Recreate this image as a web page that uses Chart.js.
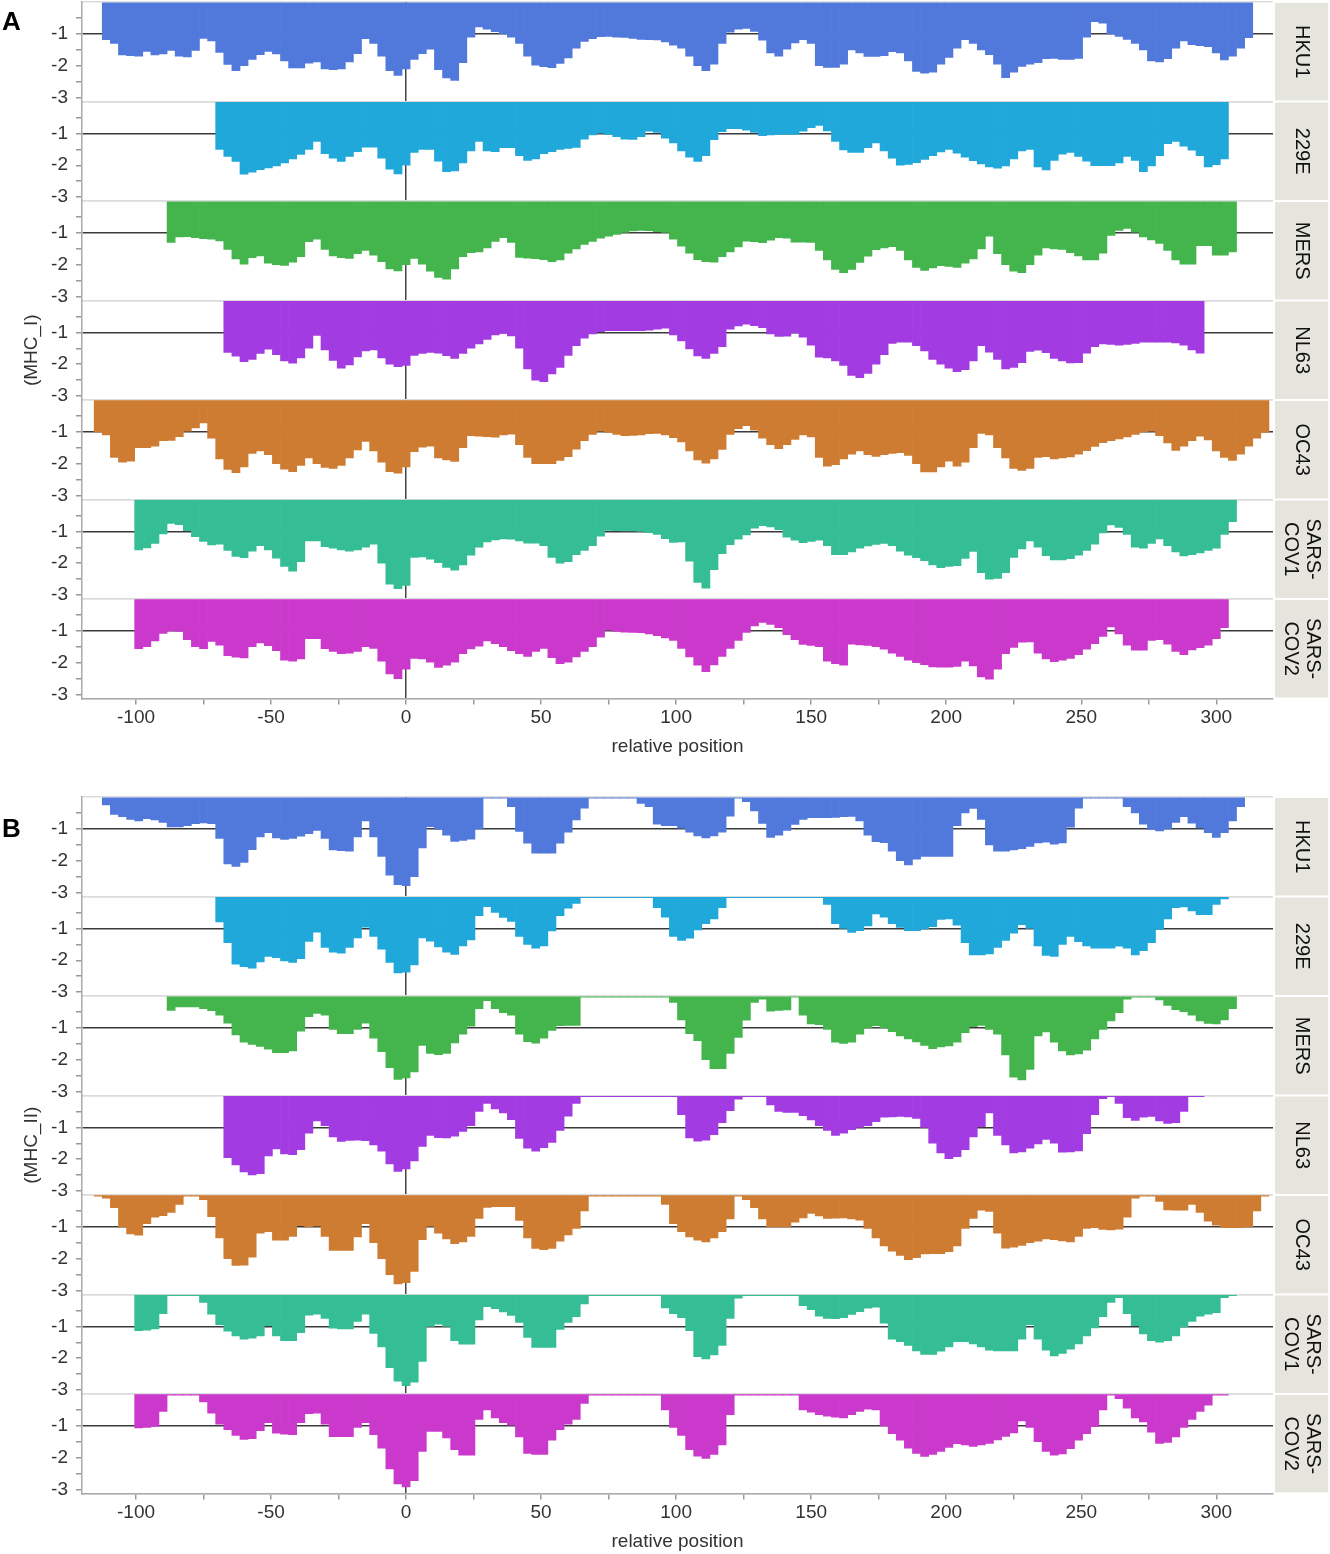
<!DOCTYPE html>
<html>
<head>
<meta charset="utf-8">
<script src="https://cdn.jsdelivr.net/npm/chart.js@4.4.1/dist/chart.umd.min.js"></script>
<style>
  body { margin: 0; background: #fff; width: 1330px; height: 1554px; position: relative; overflow: hidden; }
  .panel { position: absolute; left: 0; width: 1330px; }
  .letter { position: absolute; left: 2px; font: bold 26px "Liberation Sans", Arial, sans-serif; line-height: 1; color: #000; }
</style>
</head>
<body>
<div class="panel" style="top:0;height:760px"><canvas id="chartA"></canvas></div>
<div class="panel" style="top:795px;height:759px"><canvas id="chartB"></canvas></div>
<div class="letter" style="top:8px">A</div>
<div class="letter" style="top:815px">B</div>
<script>
const FONT = '"Liberation Sans", Arial, sans-serif';
const _ = null;

// relative positions (every 3rd residue)
const positions = [
  -114, -111, -108, -105, -102, -99, -96, -93, -90, -87,
  -84, -81, -78, -75, -72, -69, -66, -63, -60, -57,
  -54, -51, -48, -45, -42, -39, -36, -33, -30, -27,
  -24, -21, -18, -15, -12, -9, -6, -3, 0, 3,
  6, 9, 12, 15, 18, 21, 24, 27, 30, 33,
  36, 39, 42, 45, 48, 51, 54, 57, 60, 63,
  66, 69, 72, 75, 78, 81, 84, 87, 90, 93,
  96, 99, 102, 105, 108, 111, 114, 117, 120, 123,
  126, 129, 132, 135, 138, 141, 144, 147, 150, 153,
  156, 159, 162, 165, 168, 171, 174, 177, 180, 183,
  186, 189, 192, 195, 198, 201, 204, 207, 210, 213,
  216, 219, 222, 225, 228, 231, 234, 237, 240, 243,
  246, 249, 252, 255, 258, 261, 264, 267, 270, 273,
  276, 279, 282, 285, 288, 291, 294, 297, 300, 303,
  306, 309, 312, 315, 318
];
const xTicks = [-100, -75, -50, -25, 0, 25, 50, 75, 100, 125, 150, 175, 200, 225, 250, 275, 300];
const yTicks = [-3, -2.5, -2, -1.5, -1, -0.5, 0];
const rowNames = ['HKU1', '229E', 'MERS', 'NL63', 'OC43', 'SARS-\nCOV1', 'SARS-\nCOV2'];
const rowColors = ['#5179dc', '#1fa8d9', '#43b54c', '#a33be2', '#cf7c33', '#35be95', '#cb39cc'];

// ---- panel A : MHC_I ----
const mhc1_HKU1 = [
  _, -1.18, -1.3, -1.66, -1.68, -1.7, -1.55, -1.66, -1.63, -1.52,
  -1.7, -1.72, -1.52, -1.14, -1.22, -1.58, -1.96, -2.15, -2.0, -1.8,
  -1.65, -1.55, -1.63, -1.85, -2.07, -2.07, -1.92, -1.88, -2.1, -2.12,
  -2.1, -1.88, -1.62, -1.15, -1.3, -1.7, -2.15, -2.3, -2.1, -1.8,
  -1.62, -1.48, -2.12, -2.38, -2.46, -1.9, -1.1, -0.78, -0.85, -0.93,
  -1.0, -1.1, -1.3, -1.7, -1.98, -2.03, -2.06, -1.93, -1.75, -1.45,
  -1.24, -1.15, -1.09, -1.08, -1.1, -1.11, -1.14, -1.17, -1.18, -1.19,
  -1.25, -1.35, -1.45, -1.7, -2.0, -2.15, -1.95, -1.3, -0.95, -0.85,
  -0.83, -0.92, -1.2, -1.6, -1.7, -1.48, -1.28, -1.18, -1.3, -2.0,
  -2.05, -2.05, -1.95, -1.5, -1.6, -1.71, -1.71, -1.68, -1.56, -1.6,
  -1.85, -2.18, -2.23, -2.2, -1.95, -1.74, -1.45, -1.18, -1.3, -1.5,
  -1.65, -1.95, -2.37, -2.2, -2.02, -1.95, -1.9, -1.78, -1.77, -1.8,
  -1.8, -1.77, -1.1, -0.62, -0.66, -1.0, -1.08, -1.17, -1.3, -1.5,
  -1.85, -1.88, -1.78, -1.45, -1.22, -1.34, -1.37, -1.4, -1.6, -1.82,
  -1.7, -1.45, -1.12, _, _
];
const mhc1_229E = [
  _, _, _, _, _, _, _, _, _, _,
  _, _, _, _, _, -1.5, -1.72, -1.88, -2.28, -2.22,
  -2.14, -2.08, -2.02, -1.93, -1.8, -1.66, -1.5, -1.25, -1.64, -1.78,
  -1.88, -1.72, -1.57, -1.43, -1.43, -1.78, -2.12, -2.27, -2.0, -1.6,
  -1.5, -1.5, -1.87, -2.2, -2.18, -1.93, -1.55, -1.25, -1.55, -1.57,
  -1.45, -1.45, -1.7, -1.85, -1.8, -1.64, -1.57, -1.5, -1.47, -1.44,
  -1.18, -1.05, -0.99, -1.03, -1.1, -1.18, -1.19, -1.1, -0.93, -0.97,
  -1.15, -1.3, -1.55, -1.75, -1.88, -1.7, -1.2, -0.95, -0.85, -0.85,
  -0.9, -0.97, -1.07, -1.05, -1.03, -1.03, -1.03, -0.93, -0.82, -0.75,
  -0.92, -1.25, -1.52, -1.6, -1.6, -1.45, -1.3, -1.55, -1.78, -2.0,
  -1.97, -1.92, -1.82, -1.7, -1.58, -1.5, -1.62, -1.75, -1.86, -1.96,
  -2.05, -2.09, -2.02, -1.8, -1.55, -1.5, -2.05, -2.15, -1.85, -1.65,
  -1.6, -1.72, -1.87, -2.01, -2.01, -2.01, -1.93, -1.72, -1.85, -2.2,
  -2.02, -1.7, -1.32, -1.25, -1.4, -1.53, -1.7, -2.05, -1.98, -1.8,
  _, _, _, _, _
];
const mhc1_MERS = [
  _, _, _, _, _, _, _, _, _, -1.3,
  -1.13, -1.12, -1.15, -1.18, -1.2, -1.25, -1.52, -1.82, -1.98, -1.78,
  -1.72, -1.95, -2.0, -2.02, -1.92, -1.75, -1.28, -1.2, -1.52, -1.72,
  -1.78, -1.8, -1.65, -1.55, -1.7, -1.9, -2.13, -2.19, -2.0, -1.8,
  -1.98, -2.2, -2.4, -2.45, -2.13, -1.75, -1.62, -1.6, -1.47, -1.27,
  -1.15, -1.3, -1.77, -1.79, -1.81, -1.84, -1.9, -1.85, -1.64, -1.5,
  -1.36, -1.27, -1.17, -1.1, -1.05, -0.99, -0.94, -0.92, -0.93, -0.96,
  -0.99, -1.2, -1.42, -1.64, -1.84, -1.9, -1.92, -1.75, -1.6, -1.44,
  -1.26, -1.28, -1.31, -1.23, -1.15, -1.17, -1.29, -1.29, -1.3, -1.55,
  -1.85, -2.15, -2.25, -2.15, -1.93, -1.73, -1.53, -1.47, -1.43, -1.55,
  -1.85, -2.08, -2.18, -2.1, -2.03, -2.05, -2.08, -1.95, -1.82, -1.5,
  -1.1, -1.65, -2.0, -2.2, -2.25, -2.0, -1.7, -1.47, -1.5, -1.52,
  -1.62, -1.72, -1.85, -1.85, -1.64, -1.08, -0.92, -0.86, -0.98, -1.13,
  -1.22, -1.33, -1.55, -1.85, -1.98, -1.98, -1.4, -1.4, -1.7, -1.7,
  -1.6, _, _, _, _
];
const mhc1_NL63 = [
  _, _, _, _, _, _, _, _, _, _,
  _, _, _, _, _, _, -1.63, -1.75, -1.92, -1.85,
  -1.66, -1.53, -1.7, -1.9, -1.97, -1.8, -1.5, -1.1, -1.55, -1.88,
  -2.12, -2.02, -1.77, -1.58, -1.55, -1.8, -2.0, -2.08, -2.04, -1.72,
  -1.66, -1.63, -1.65, -1.73, -1.82, -1.66, -1.5, -1.36, -1.22, -1.08,
  -1.03, -1.11, -1.5, -2.15, -2.5, -2.55, -2.3, -2.1, -1.72, -1.42,
  -1.18, -1.05, -0.98, -0.95, -0.95, -0.95, -0.95, -0.95, -0.93, -0.9,
  -0.87, -1.08, -1.27, -1.52, -1.74, -1.82, -1.66, -1.45, -0.9, -0.8,
  -0.74, -0.79, -0.85, -1.05, -1.13, -1.12, -1.02, -1.15, -1.4, -1.78,
  -1.8, -1.9, -2.04, -2.35, -2.42, -2.29, -2.0, -1.7, -1.35, -1.31,
  -1.31, -1.42, -1.58, -1.85, -2.0, -2.12, -2.23, -2.17, -1.9, -1.42,
  -1.62, -1.85, -2.15, -2.1, -1.95, -1.6, -1.56, -1.64, -1.82, -1.9,
  -1.96, -1.95, -1.65, -1.45, -1.36, -1.38, -1.4, -1.38, -1.35, -1.31,
  -1.31, -1.31, -1.31, -1.33, -1.4, -1.55, -1.65, _, _, _,
  _, _, _, _, _
];
const mhc1_OC43 = [
  -1.0, -1.1, -1.8, -1.95, -1.92, -1.5, -1.5, -1.45, -1.28, -1.27,
  -1.15, -0.98, -0.88, -0.72, -1.2, -1.85, -2.18, -2.28, -2.1, -1.68,
  -1.6, -1.72, -2.0, -2.17, -2.25, -2.05, -1.82, -2.0, -2.12, -2.15,
  -2.05, -1.82, -1.57, -1.3, -1.6, -1.95, -2.25, -2.3, -2.1, -1.62,
  -1.48, -1.45, -1.82, -1.88, -1.93, -1.5, -1.12, -1.14, -1.15, -1.17,
  -1.1, -1.07, -1.4, -1.8, -2.0, -2.0, -2.0, -1.9, -1.78, -1.54,
  -1.28, -1.08, -0.98, -1.02, -1.08, -1.12, -1.11, -1.1, -1.06, -1.05,
  -1.1, -1.18, -1.32, -1.6, -1.88, -1.98, -1.85, -1.55, -1.08, -0.9,
  -0.81, -0.95, -1.2, -1.4, -1.53, -1.4, -1.24, -1.1, -1.16, -1.8,
  -2.08, -2.03, -1.85, -1.7, -1.6, -1.72, -1.77, -1.72, -1.68, -1.65,
  -1.74, -2.0, -2.26, -2.26, -2.1, -1.92, -2.08, -1.95, -1.5, -1.05,
  -1.1, -1.5, -1.82, -2.15, -2.21, -2.15, -1.8, -1.78, -1.85, -1.82,
  -1.79, -1.7, -1.59, -1.46, -1.34, -1.28, -1.22, -1.16, -1.08, -1.0,
  -0.98, -1.12, -1.35, -1.58, -1.45, -1.28, -1.14, -1.25, -1.6, -1.8,
  -1.9, -1.7, -1.45, -1.2, -1.02
];
const mhc1_SARS1 = [
  _, _, _, _, _, -1.58, -1.52, -1.38, -1.08, -0.75,
  -0.79, -0.98, -1.17, -1.32, -1.43, -1.4, -1.6, -1.79, -1.83, -1.62,
  -1.45, -1.58, -1.84, -2.1, -2.25, -1.95, -1.3, -1.3, -1.48, -1.53,
  -1.58, -1.62, -1.58, -1.5, -1.4, -2.0, -2.66, -2.8, -2.7, -1.82,
  -1.8, -1.87, -1.98, -2.13, -2.22, -2.05, -1.75, -1.5, -1.33, -1.27,
  -1.24, -1.25, -1.3, -1.37, -1.37, -1.45, -1.82, -2.0, -1.95, -1.73,
  -1.6, -1.45, -1.15, -0.97, -0.98, -0.99, -0.99, -1.0, -1.04, -1.1,
  -1.23, -1.35, -1.33, -1.94, -2.6, -2.78, -2.2, -1.7, -1.42, -1.25,
  -1.11, -0.9, -0.82, -0.86, -0.95, -1.18, -1.28, -1.36, -1.32, -1.28,
  -1.45, -1.73, -1.73, -1.65, -1.53, -1.46, -1.41, -1.38, -1.45, -1.62,
  -1.75, -1.83, -1.92, -2.05, -2.14, -2.1, -2.08, -1.85, -1.63, -2.3,
  -2.5, -2.48, -2.3, -1.82, -1.55, -1.3, -1.5, -1.76, -1.9, -1.9,
  -1.86, -1.75, -1.6, -1.4, -1.05, -0.8, -0.88, -1.1, -1.5, -1.53,
  -1.38, -1.24, -1.45, -1.65, -1.77, -1.73, -1.68, -1.6, -1.53, -1.1,
  -0.7, _, _, _, _
];
const mhc1_SARS2 = [
  _, _, _, _, _, -1.56, -1.5, -1.32, -1.08, -1.0,
  -1.02, -1.28, -1.5, -1.56, -1.33, -1.45, -1.78, -1.83, -1.85, -1.5,
  -1.38, -1.47, -1.62, -1.92, -1.95, -1.88, -1.25, -1.25, -1.56, -1.65,
  -1.72, -1.7, -1.65, -1.5, -1.55, -1.95, -2.35, -2.5, -2.2, -1.87,
  -1.88, -1.98, -2.15, -2.08, -1.98, -1.72, -1.57, -1.48, -1.32, -1.4,
  -1.5, -1.62, -1.72, -1.8, -1.65, -1.55, -1.84, -2.03, -1.98, -1.82,
  -1.65, -1.5, -1.2, -0.98, -1.02, -1.04, -1.05, -1.06, -1.1, -1.15,
  -1.22, -1.3, -1.55, -1.82, -2.08, -2.28, -2.07, -1.8, -1.55, -1.3,
  -1.05, -0.85, -0.74, -0.8, -0.9, -1.12, -1.28, -1.43, -1.46, -1.5,
  -1.95, -2.03, -2.08, -1.42, -1.44, -1.46, -1.5, -1.58, -1.7, -1.8,
  -1.92, -2.0, -2.06, -2.13, -2.14, -2.14, -2.12, -1.95, -2.1, -2.45,
  -2.52, -2.2, -1.72, -1.52, -1.36, -1.35, -1.7, -1.88, -1.97, -1.92,
  -1.87, -1.75, -1.58, -1.4, -1.18, -0.88, -1.1, -1.45, -1.61, -1.61,
  -1.3, -1.28, -1.42, -1.65, -1.75, -1.6, -1.53, -1.45, -1.25, -0.9,
  _, _, _, _, _
];

// ---- panel B : MHC_II ----
const mhc2_HKU1 = [
  _, -0.25, -0.55, -0.62, -0.7, -0.75, -0.68, -0.72, -0.8, -0.94,
  -0.94, -0.9, -0.84, -0.81, -0.84, -1.3, -2.1, -2.18, -2.05, -1.65,
  -1.25, -1.12, -1.28, -1.33, -1.3, -1.23, -1.15, -1.05, -1.3, -1.66,
  -1.68, -1.7, -1.25, -0.75, -1.25, -1.86, -2.45, -2.75, -2.78, -2.5,
  -1.6, -0.93, -1.02, -1.2, -1.39, -1.36, -1.32, -1.0, -0.04, -0.04,
  -0.04, -0.3, -1.08, -1.45, -1.76, -1.76, -1.76, -1.45, -1.1, -0.72,
  -0.35, -0.04, -0.04, -0.04, -0.04, -0.04, -0.04, -0.2, -0.3, -0.85,
  -0.9, -0.9, -0.98, -1.1, -1.22, -1.28, -1.22, -1.1, -0.6, -0.04,
  -0.15, -0.44, -0.83, -1.27, -1.2, -1.05, -0.86, -0.7, -0.65, -0.65,
  -0.65, -0.64, -0.62, -0.61, -0.75, -1.2, -1.4, -1.43, -1.7, -2.0,
  -2.13, -1.95, -1.86, -1.86, -1.86, -1.86, -0.9, -0.5, -0.36, -0.7,
  -1.5, -1.7, -1.7, -1.66, -1.62, -1.55, -1.44, -1.42, -1.48, -1.44,
  -0.95, -0.35, -0.04, -0.04, -0.04, -0.04, -0.04, -0.3, -0.5, -0.85,
  -1.02, -1.06, -1.0, -0.8, -0.62, -0.82, -0.97, -1.12, -1.27, -1.12,
  -0.75, -0.3, _, _, _
];
const mhc2_229E = [
  _, _, _, _, _, _, _, _, _, _,
  _, _, _, _, _, -0.8, -1.45, -2.12, -2.2, -2.25,
  -2.05, -1.88, -1.92, -2.02, -2.07, -1.95, -1.41, -1.12, -1.6, -1.75,
  -1.78, -1.6, -1.3, -0.96, -1.25, -1.65, -2.07, -2.4, -2.37, -2.15,
  -1.3, -1.4, -1.58, -1.75, -1.82, -1.55, -1.36, -0.6, -0.32, -0.5,
  -0.66, -0.78, -1.25, -1.5, -1.62, -1.55, -1.08, -0.6, -0.37, -0.22,
  -0.04, -0.04, -0.04, -0.04, -0.04, -0.04, -0.04, -0.04, -0.04, -0.35,
  -0.65, -1.25, -1.38, -1.31, -1.05, -0.85, -0.7, -0.35, -0.04, -0.04,
  -0.04, -0.04, -0.04, -0.04, -0.04, -0.04, -0.04, -0.04, -0.04, -0.04,
  -0.25, -0.85, -1.0, -1.13, -1.07, -0.92, -0.55, -0.65, -0.85, -0.97,
  -1.07, -1.07, -1.02, -0.95, -0.72, -0.7, -0.9, -1.45, -1.83, -1.83,
  -1.8, -1.6, -1.38, -1.15, -0.88, -1.0, -1.55, -1.85, -1.88, -1.5,
  -1.25, -1.42, -1.55, -1.62, -1.62, -1.62, -1.56, -1.62, -1.83, -1.7,
  -1.45, -1.03, -0.7, -0.35, -0.33, -0.45, -0.57, -0.57, -0.25, -0.08,
  _, _, _, _, _
];
const mhc2_MERS = [
  _, _, _, _, _, _, _, _, _, -0.45,
  -0.34, -0.34, -0.34, -0.4, -0.46, -0.6, -0.85, -1.22, -1.45, -1.52,
  -1.58, -1.67, -1.78, -1.78, -1.72, -1.1, -0.65, -0.55, -0.6, -1.05,
  -1.18, -1.18, -1.05, -0.85, -1.32, -1.75, -2.25, -2.62, -2.57, -2.38,
  -1.55, -1.8, -1.84, -1.8, -1.47, -1.2, -0.95, -0.4, -0.15, -0.4,
  -0.52, -0.6, -1.2, -1.43, -1.48, -1.32, -1.08, -0.93, -0.92, -0.92,
  -0.04, -0.04, -0.04, -0.04, -0.04, -0.04, -0.04, -0.04, -0.04, -0.04,
  -0.04, -0.2, -0.75, -1.18, -1.4, -2.0, -2.28, -2.28, -1.8, -1.3,
  -0.76, -0.2, -0.1, -0.48, -0.45, -0.44, -0.04, -0.6, -0.88, -0.9,
  -1.05, -1.45, -1.49, -1.45, -1.2, -1.0, -0.93, -1.0, -1.12, -1.25,
  -1.35, -1.44, -1.55, -1.65, -1.6, -1.57, -1.45, -1.15, -0.96, -0.92,
  -1.05, -1.2, -1.85, -2.55, -2.63, -2.3, -1.25, -1.13, -1.45, -1.72,
  -1.85, -1.82, -1.7, -1.35, -1.05, -0.78, -0.52, -0.1, -0.04, -0.04,
  -0.04, -0.12, -0.3, -0.43, -0.49, -0.6, -0.78, -0.86, -0.88, -0.75,
  -0.4, _, _, _, _
];
const mhc2_NL63 = [
  _, _, _, _, _, _, _, _, _, _,
  _, _, _, _, _, _, -1.95, -2.18, -2.4, -2.49,
  -2.45, -1.9, -1.68, -1.83, -1.86, -1.7, -1.18, -0.8, -0.95, -1.3,
  -1.44, -1.41, -1.4, -1.42, -1.55, -1.75, -2.15, -2.38, -2.3, -2.05,
  -1.6, -1.25, -1.32, -1.33, -1.28, -1.13, -0.95, -0.5, -0.25, -0.42,
  -0.55, -0.76, -1.35, -1.65, -1.75, -1.64, -1.47, -1.1, -0.65, -0.25,
  -0.04, -0.04, -0.04, -0.04, -0.04, -0.04, -0.04, -0.04, -0.04, -0.04,
  -0.04, -0.04, -0.6, -1.33, -1.43, -1.4, -1.23, -0.85, -0.48, -0.12,
  -0.04, -0.04, -0.04, -0.3, -0.5, -0.53, -0.53, -0.63, -0.77, -0.95,
  -1.1, -1.25, -1.18, -1.07, -1.0, -0.95, -0.82, -0.68, -0.67, -0.66,
  -0.67, -0.72, -1.0, -1.5, -1.8, -1.98, -1.92, -1.7, -1.3, -0.98,
  -0.55, -1.25, -1.55, -1.8, -1.77, -1.65, -1.52, -1.38, -1.5, -1.78,
  -1.77, -1.74, -1.2, -0.6, -0.1, -0.04, -0.25, -0.7, -0.78, -0.68,
  -0.66, -0.8, -0.88, -0.85, -0.5, -0.04, -0.04, _, _, _,
  _, _, _, _, _
];
const mhc2_OC43 = [
  -0.04, -0.1, -0.4, -1.0, -1.22, -1.26, -0.9, -0.7, -0.65, -0.55,
  -0.3, -0.04, -0.04, -0.15, -0.68, -1.35, -2.0, -2.21, -2.2, -1.95,
  -1.2, -1.15, -1.42, -1.42, -1.3, -0.96, -1.0, -0.97, -1.3, -1.74,
  -1.74, -1.74, -1.32, -0.9, -1.5, -2.0, -2.5, -2.79, -2.75, -2.4,
  -1.4, -0.98, -1.2, -1.38, -1.53, -1.47, -1.3, -0.74, -0.39, -0.37,
  -0.37, -0.37, -0.8, -1.35, -1.68, -1.72, -1.68, -1.45, -1.25, -1.05,
  -0.5, -0.04, -0.04, -0.04, -0.04, -0.04, -0.04, -0.04, -0.04, -0.04,
  -0.3, -0.9, -1.15, -1.32, -1.42, -1.47, -1.35, -1.15, -0.75, -0.04,
  -0.15, -0.4, -0.75, -1.0, -1.0, -1.0, -0.85, -0.72, -0.58, -0.66,
  -0.74, -0.73, -0.72, -0.75, -0.79, -1.05, -1.35, -1.6, -1.76, -1.9,
  -2.03, -1.97, -1.85, -1.84, -1.84, -1.78, -1.6, -1.05, -0.74, -0.48,
  -0.52, -1.2, -1.67, -1.64, -1.58, -1.5, -1.45, -1.38, -1.4, -1.44,
  -1.47, -1.3, -1.05, -1.03, -1.08, -1.1, -1.07, -0.7, -0.1, -0.04,
  -0.04, -0.2, -0.47, -0.48, -0.48, -0.3, -0.55, -0.82, -0.95, -1.03,
  -1.03, -1.03, -1.0, -0.5, -0.04
];
const mhc2_SARS1 = [
  _, _, _, _, _, -1.14, -1.12, -1.08, -0.6, -0.04,
  -0.04, -0.04, -0.04, -0.25, -0.62, -0.95, -1.15, -1.3, -1.4, -1.37,
  -1.3, -0.98, -1.3, -1.45, -1.45, -1.2, -0.65, -0.62, -0.75, -1.06,
  -1.08, -1.08, -0.85, -0.62, -1.22, -1.65, -2.3, -2.72, -2.86, -2.75,
  -2.1, -1.0, -0.93, -1.0, -1.45, -1.56, -1.56, -0.8, -0.38, -0.45,
  -0.55, -0.66, -0.88, -1.35, -1.66, -1.66, -1.66, -1.1, -0.88, -0.7,
  -0.3, -0.04, -0.04, -0.04, -0.04, -0.04, -0.04, -0.04, -0.04, -0.04,
  -0.42, -0.6, -0.73, -1.14, -1.95, -2.02, -1.9, -1.6, -0.75, -0.12,
  -0.04, -0.04, -0.04, -0.04, -0.04, -0.04, -0.04, -0.35, -0.48, -0.68,
  -0.75, -0.76, -0.73, -0.63, -0.54, -0.43, -0.4, -0.9, -1.4, -1.48,
  -1.6, -1.77, -1.88, -1.88, -1.78, -1.65, -1.48, -1.48, -1.55, -1.65,
  -1.75, -1.77, -1.77, -1.77, -1.4, -0.95, -1.4, -1.75, -1.93, -1.85,
  -1.72, -1.55, -1.3, -1.05, -0.7, -0.25, -0.1, -0.6, -0.98, -1.24,
  -1.45, -1.5, -1.45, -1.3, -1.02, -0.85, -0.68, -0.62, -0.57, -0.1,
  -0.04, _, _, _, _
];
const mhc2_SARS2 = [
  _, _, _, _, _, -1.07, -1.05, -1.02, -0.55, -0.04,
  -0.04, -0.04, -0.04, -0.25, -0.6, -0.95, -1.12, -1.3, -1.43, -1.4,
  -1.15, -0.9, -1.23, -1.26, -1.28, -0.9, -0.62, -0.6, -0.95, -1.34,
  -1.34, -1.34, -1.05, -0.9, -1.28, -1.7, -2.35, -2.82, -2.92, -2.72,
  -1.8, -1.18, -1.18, -1.38, -1.75, -1.92, -1.92, -0.8, -0.5, -0.75,
  -0.9, -0.98, -1.35, -1.87, -1.9, -1.9, -1.45, -1.12, -0.95, -0.8,
  -0.3, -0.04, -0.04, -0.04, -0.04, -0.04, -0.04, -0.04, -0.04, -0.04,
  -0.5, -1.05, -1.3, -1.75, -1.95, -2.02, -1.9, -1.6, -0.65, -0.04,
  -0.04, -0.04, -0.04, -0.04, -0.04, -0.04, -0.04, -0.5, -0.57, -0.65,
  -0.7, -0.73, -0.75, -0.65, -0.55, -0.48, -0.5, -1.0, -1.25, -1.45,
  -1.7, -1.87, -1.96, -1.9, -1.8, -1.68, -1.56, -1.6, -1.65, -1.6,
  -1.55, -1.44, -1.33, -1.22, -0.85, -1.05, -1.5, -1.8, -1.92, -1.88,
  -1.72, -1.45, -1.25, -1.03, -0.5, -0.04, -0.15, -0.45, -0.75, -0.88,
  -1.2, -1.55, -1.52, -1.35, -1.05, -0.8, -0.55, -0.35, -0.04, -0.04,
  _, _, _, _, _
];

const mhc1Rows = [mhc1_HKU1, mhc1_229E, mhc1_MERS, mhc1_NL63, mhc1_OC43, mhc1_SARS1, mhc1_SARS2];
const mhc2Rows = [mhc2_HKU1, mhc2_229E, mhc2_MERS, mhc2_NL63, mhc2_OC43, mhc2_SARS1, mhc2_SARS2];

const Y_MIN = -3.12;

function toPoints(values) {
    const pts = [];
    values.forEach((v, i) => {
        if (v !== null) pts.push({ x: positions[i], y: v });
    });
    return pts;
}

// strip labels on the right + rotated y title
const panelDecor = {
    id: 'panelDecor',
    afterDraw(chart, args, opts) {
        const { ctx, chartArea } = chart;
        ctx.save();
        rowNames.forEach((name, i) => {
            const s = chart.scales['y' + i];
            const x0 = chartArea.right + 2;
            const w = 53;
            ctx.fillStyle = '#e5e4dd';
            ctx.fillRect(x0, s.top + 1, w, s.bottom - s.top - 2);
            ctx.save();
            ctx.translate(x0 + w / 2, (s.top + s.bottom) / 2);
            ctx.rotate(Math.PI / 2);
            ctx.font = '20px ' + FONT;
            ctx.fillStyle = '#111';
            ctx.textAlign = 'center';
            ctx.textBaseline = 'middle';
            const lines = name.split('\n');
            lines.forEach((ln, k) => ctx.fillText(ln, 0, (k - (lines.length - 1) / 2) * 22));
            ctx.restore();
        });
        // y title
        ctx.save();
        ctx.translate(32, (chartArea.top + chartArea.bottom) / 2);
        ctx.rotate(-Math.PI / 2);
        ctx.font = '19px ' + FONT;
        ctx.fillStyle = '#333';
        ctx.textAlign = 'center';
        ctx.textBaseline = 'middle';
        ctx.fillText(opts.title, 0, 0);
        ctx.restore();
        ctx.restore();
    }
};

function makePanel(canvasId, rows, yTitle, padBottom) {
    const scales = {
        x: {
            type: 'linear',
            min: -120,
            max: 321,
            offset: false,
            afterBuildTicks: s => { s.ticks = xTicks.map(v => ({ value: v })); },
            ticks: {
                autoSkip: false,
                maxRotation: 0,
                padding: 2,
                color: '#333',
                font: { family: FONT, size: 19 },
                callback: v => (v % 50 === 0 ? v : '')
            },
            grid: {
                offset: false,
                color: c => (c.tick && c.tick.value === 0 ? '#444' : 'rgba(0,0,0,0)'),
                lineWidth: 1.5,
                tickColor: '#999',
                tickLength: 6
            },
            border: { display: true, color: '#aaa', width: 1.5 },
            title: {
                display: true,
                text: 'relative position',
                color: '#333',
                font: { family: FONT, size: 19 },
                padding: { top: 4, bottom: 0 }
            }
        }
    };
    // defined bottom row first so that row 0 ends up on top of the stack
    for (let i = rows.length - 1; i >= 0; i--) {
        scales['y' + i] = {
            type: 'linear',
            position: 'left',
            stack: 'rows',
            stackWeight: 1,
            min: Y_MIN,
            max: 0,
            afterBuildTicks: s => { s.ticks = [Y_MIN].concat(yTicks).map(v => ({ value: v })); },
            afterFit: s => {
                s.width = 46;
                s.paddingTop = 0;
                s.paddingBottom = 0;
            },
            ticks: {
                autoSkip: false,
                padding: 8,
                color: '#333',
                font: { family: FONT, size: 19 },
                callback: v => (Number.isInteger(v) && v !== 0 ? v : '')
            },
            grid: {
                color: c => {
                    if (!c.tick) return 'rgba(0,0,0,0)';
                    if (c.tick.value === -1) return '#3a3a3a';
                    if (c.tick.value === Y_MIN || c.tick.value === 0) return '#dcdcdc';
                    return 'rgba(0,0,0,0)';
                },
                lineWidth: 1.5,
                tickColor: c => (c.tick && (c.tick.value === Y_MIN || c.tick.value === 0) ? 'rgba(0,0,0,0)' : '#999'),
                tickLength: 6
            },
            border: { display: true, color: '#aaa', width: 1.5 }
        };
    }

    return new Chart(document.getElementById(canvasId), {
        type: 'bar',
        data: {
            datasets: rows.map((vals, i) => ({
                label: rowNames[i],
                data: toPoints(vals),
                yAxisID: 'y' + i,
                backgroundColor: rowColors[i],
                borderWidth: 0,
                barPercentage: 1,
                categoryPercentage: 1,
                grouped: false
            }))
        },
        options: {
            responsive: true,
            maintainAspectRatio: false,
            animation: false,
            layout: { padding: { top: 2, right: 57, left: 36, bottom: padBottom } },
            plugins: {
                legend: { display: false },
                tooltip: { enabled: false },
                panelDecor: { title: yTitle }
            },
            scales: scales
        },
        plugins: [panelDecor]
    });
}

makePanel('chartA', mhc1Rows, '(MHC_I)', 2);
makePanel('chartB', mhc2Rows, '(MHC_II)', 1);
</script>
</body>
</html>
